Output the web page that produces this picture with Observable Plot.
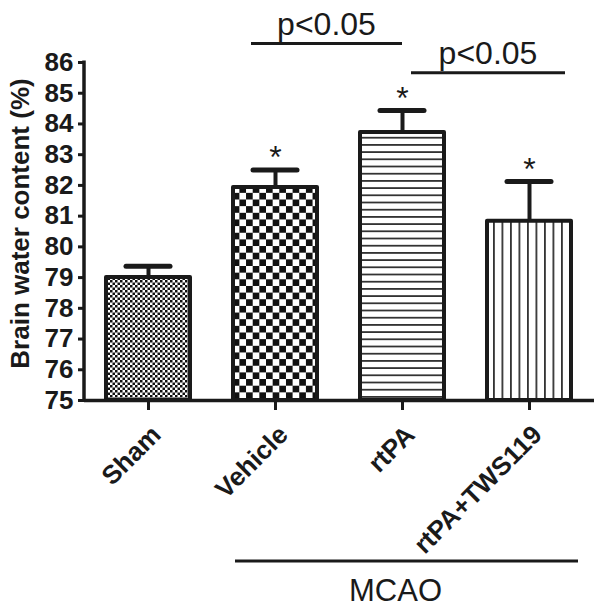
<!DOCTYPE html>
<html>
<head>
<meta charset="utf-8">
<script src="https://cdn.jsdelivr.net/npm/d3@7"></script>
<script src="https://cdn.jsdelivr.net/npm/@observablehq/plot@0.6"></script>
<style>
  html, body { margin: 0; padding: 0; background: #fff; }
  svg { display: block; }
</style>
</head>
<body>
<div id="chart"></div>
<script>
// ---- data ----
const categories = ["Sham", "Vehicle", "rtPA", "rtPA+TWS119"];
const means = [79.0, 81.93, 83.72, 80.83];
const upperErrors = [79.37, 82.5, 84.44, 82.13];
const starred = [false, true, true, true];
const patterns = ["pat-fine", "pat-check", "pat-hlines", "pat-vlines"];
const yTicks = [75, 76, 77, 78, 79, 80, 81, 82, 83, 84, 85, 86];
const yLabel = "Brain water content (%)";
const comparisonFrom = ["Vehicle", "rtPA"];
const comparisonTo = ["rtPA", "rtPA+TWS119"];
const comparisonLevels = [86.6, 85.65];
const comparisonLabels = ["p<0.05", "p<0.05"];
const groupMembers = ["Vehicle", "rtPA", "rtPA+TWS119"];
const groupLabel = "MCAO";

const rows = categories.map((c, i) => ({
  group: c, mean: means[i], upper: upperErrors[i], star: starred[i], fill: `url(#${patterns[i]})`
}));
const base = d3.min(yTicks);
const FONT = "'Liberation Sans', Arial, Helvetica, sans-serif";

// annotations drawn with the plot's own scales
function annotations(index, scales, values, dims) {
  const x = scales.x, y = scales.y;
  const bw = x.bandwidth ? x.bandwidth() : 0;
  const cx = c => x(c) + bw / 2;
  const g = d3.create("svg:g");
  // pattern definitions
  const defs = g.append("defs");
  const p1 = defs.append("pattern").attr("id", "pat-fine").attr("patternUnits", "userSpaceOnUse").attr("width", 5).attr("height", 5);
  p1.append("rect").attr("width", 5).attr("height", 5).attr("fill", "#fff");
  p1.append("rect").attr("width", 2.5).attr("height", 2.5).attr("fill", "#111");
  p1.append("rect").attr("x", 2.5).attr("y", 2.5).attr("width", 2.5).attr("height", 2.5).attr("fill", "#111");
  const p2 = defs.append("pattern").attr("id", "pat-check").attr("patternUnits", "userSpaceOnUse").attr("width", 13.3).attr("height", 13.3);
  p2.append("rect").attr("width", 13.3).attr("height", 13.3).attr("fill", "#fff");
  p2.append("rect").attr("width", 6.65).attr("height", 6.65).attr("fill", "#111");
  p2.append("rect").attr("x", 6.65).attr("y", 6.65).attr("width", 6.65).attr("height", 6.65).attr("fill", "#111");
  const p3 = defs.append("pattern").attr("id", "pat-hlines").attr("patternUnits", "userSpaceOnUse").attr("width", 10).attr("height", 7.2);
  p3.append("rect").attr("width", 10).attr("height", 7.2).attr("fill", "#fff");
  p3.append("rect").attr("y", 0).attr("width", 10).attr("height", 1.8).attr("fill", "#333");
  const p4 = defs.append("pattern").attr("id", "pat-vlines").attr("patternUnits", "userSpaceOnUse").attr("width", 8.5).attr("height", 10);
  p4.append("rect").attr("width", 8.5).attr("height", 10).attr("fill", "#fff");
  p4.append("rect").attr("x", 0).attr("width", 1.8).attr("height", 10).attr("fill", "#333");

  // y axis line
  g.append("line")
    .attr("x1", dims.marginLeft).attr("x2", dims.marginLeft)
    .attr("y1", y(d3.max(yTicks)) - 1.5).attr("y2", y(base) + 1.5)
    .attr("stroke", "#1a1a1a").attr("stroke-width", 3.5);

  // significance brackets
  const offsetsStart = [-24, 9];
  const offsetsEnd = [0, 36];
  comparisonLabels.forEach((lab, i) => {
    const x1 = cx(comparisonFrom[i]) + offsetsStart[i];
    const x2 = cx(comparisonTo[i]) + offsetsEnd[i];
    const yy = y(comparisonLevels[i]);
    g.append("line").attr("x1", x1).attr("x2", x2).attr("y1", yy).attr("y2", yy)
      .attr("stroke", "#1a1a1a").attr("stroke-width", 3);
    g.append("text").attr("x", (x1 + x2) / 2).attr("y", yy - 9)
      .attr("text-anchor", "middle").attr("font-family", FONT).attr("font-size", 32)
      .attr("fill", "#1a1a1a").text(lab);
  });

  // group bracket
  const gx1 = cx(groupMembers[0]) - 40;
  const gx2 = cx(groupMembers[groupMembers.length - 1]) + 49;
  const gy = dims.height - 48;
  g.append("line").attr("x1", gx1).attr("x2", gx2).attr("y1", gy).attr("y2", gy)
    .attr("stroke", "#1a1a1a").attr("stroke-width", 3);
  g.append("text").attr("x", (gx1 + gx2) / 2 - 11).attr("y", gy + 40)
    .attr("text-anchor", "middle").attr("font-family", FONT).attr("font-size", 31)
    .attr("fill", "#1a1a1a").text(groupLabel);
  return g.node();
}

const chart = Plot.plot({
  width: 602,
  height: 609,
  marginLeft: 84,
  marginRight: 10,
  marginTop: 62,
  marginBottom: 209,
  style: { fontFamily: FONT, background: "#fff", color: "#1a1a1a", overflow: "visible" },
  x: { domain: categories, paddingInner: 0.34, paddingOuter: 0.17, label: null },
  y: { domain: [base, d3.max(yTicks)], label: null },
  marks: [
    annotations,
    Plot.axisY({ ticks: yTicks, tickSize: 6, tickPadding: 5, strokeWidth: 3, fontSize: 26, fontWeight: "bold", label: null }),
    Plot.axisX({ tickSize: 10, strokeWidth: 3, tickFormat: () => "", label: null }),
    Plot.axisX({ tickSize: 0, tickPadding: 30, tickRotate: -45, fontSize: 26, fontWeight: "bold", dx: 8, dy: 0, label: null }),
    Plot.ruleX(rows, { x: "group", y1: "mean", y2: "upper", stroke: "#1a1a1a", strokeWidth: 4 }),
    Plot.tickY(rows, { x: "group", y: "upper", insetLeft: 20, insetRight: 20, stroke: "#1a1a1a", strokeWidth: 5, strokeLinecap: "round" }),
    Plot.barY(rows, { x: "group", y1: base, y2: "mean", fill: "fill", stroke: "#1a1a1a", strokeWidth: 4, strokeLinejoin: "round" }),
    Plot.ruleY([base], { stroke: "#1a1a1a", strokeWidth: 3.5, insetRight: -2 }),
    Plot.text(rows.filter(d => d.star), { x: "group", y: "upper", text: () => "*", fontSize: 32, dy: -12, fill: "#1a1a1a" }),
    Plot.text([yLabel], { frameAnchor: "left", textAnchor: "middle", rotate: -90, dx: -64, dy: -8, fontSize: 26, fontWeight: "bold", fill: "#1a1a1a" })
  ]
});
document.getElementById("chart").appendChild(chart);
</script>
</body>
</html>
